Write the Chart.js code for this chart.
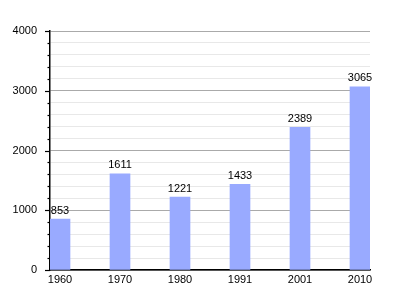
<!DOCTYPE html>
<html>
<head>
<meta charset="utf-8">
<script src="https://cdn.jsdelivr.net/npm/chart.js@4"></script>
<style>
  html, body { margin: 0; padding: 0; background: #fff; }
  #wrap { width: 400px; height: 300px; }
</style>
</head>
<body>
<div id="wrap"><canvas id="popChart" width="400" height="300"></canvas></div>
<script>
const years = ["1960", "1970", "1980", "1991", "2001", "2010"];
const population = [853, 1611, 1221, 1433, 2389, 3065];
const yTicks = [0, 1000, 2000, 3000, 4000];

// bar value labels + short minor ticks on the y axis
const extras = {
  id: "extras",
  afterDatasetsDraw(chart) {
    const ctx = chart.ctx;
    const meta = chart.getDatasetMeta(0);
    ctx.save();
    ctx.font = "11px 'Liberation Sans', Arial, sans-serif";
    ctx.fillStyle = "#000";
    ctx.textAlign = "center";
    ctx.textBaseline = "bottom";
    meta.data.forEach((bar, i) => {
      ctx.fillText(String(population[i]), bar.x, bar.y - 3);
    });
    ctx.restore();
  },
  afterDraw(chart) {
    const ctx = chart.ctx;
    const y = chart.scales.y;
    const left = chart.chartArea.left;
    ctx.save();
    ctx.strokeStyle = "#000";
    ctx.lineWidth = 1.2;
    for (let v = 0; v <= 4000; v += 200) {
      const py = Math.round(y.getPixelForValue(v)) + 0.5;
      const len = v % 1000 === 0 ? 5 : 2.5;
      ctx.beginPath();
      ctx.moveTo(left - len, py);
      ctx.lineTo(left, py);
      ctx.stroke();
    }
    ctx.restore();
  }
};

const ctx = document.getElementById("popChart").getContext("2d");
const myChart = new Chart(ctx, {
  type: "bar",
  data: {
    datasets: [
      {
        data: population.map((v, i) => ({ x: i, y: v })),
        backgroundColor: "#99aaff",
        borderWidth: 0,
        barThickness: 20,
      },
    ],
  },
  options: {
    responsive: false,
    animation: false,
    layout: { padding: { top: 31, right: 30, left: 0, bottom: 0 } },
    plugins: { legend: { display: false }, tooltip: { enabled: false } },
    scales: {
      x: {
        type: "linear",
        min: -1 / 6,
        max: 5 + 1 / 6,
        offset: false,
        afterBuildTicks(scale) {
          scale.ticks = years.map((_, i) => ({ value: i }));
        },
        afterFit(scale) { scale.height = 30; },
        grid: { display: false, drawTicks: false },
        border: { color: "#000", width: 1.5 },
        ticks: {
          autoSkip: false,
          maxRotation: 0,
          padding: 3,
          color: "#000",
          font: { family: "'Liberation Sans', Arial, sans-serif", size: 11 },
          callback: (v) => years[v] ?? "",
        },
      },
      y: {
        min: 0,
        max: 4000,
        afterBuildTicks(scale) {
          const t = [];
          for (let v = 0; v <= 4000; v += 200) t.push({ value: v });
          scale.ticks = t;
        },
        afterFit(scale) { scale.width = 50; },
        grid: {
          drawTicks: false,
          color: (c) => (c.tick.value % 1000 === 0 ? "#aaaaaa" : "#e8e8e8"),
        },
        border: { color: "#000", width: 1.5 },
        ticks: {
          autoSkip: false,
          padding: 13,
          color: "#000",
          font: { family: "'Liberation Sans', Arial, sans-serif", size: 11 },
          callback: (v) => (yTicks.includes(v) ? String(v) : ""),
        },
      },
    },
  },
  plugins: [extras],
});
</script>
</body>
</html>
